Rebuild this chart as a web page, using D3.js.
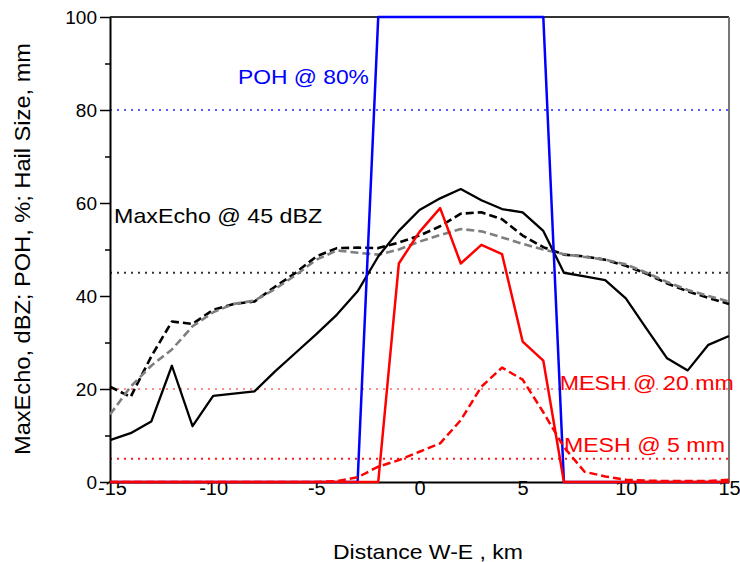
<!DOCTYPE html>
<html>
<head>
<meta charset="utf-8">
<script src="https://cdn.jsdelivr.net/npm/d3@7"></script>
<style>
  html, body { margin: 0; padding: 0; background: #fff; }
  svg { display: block; font-family: "Liberation Sans", Arial, sans-serif; }
</style>
</head>
<body>
<svg id="chart" width="740" height="562"></svg>
<script>
// ---- data ----
const distance = [-15,-14,-13,-12,-11,-10,-9,-8,-7,-6,-5,-4,-3,-2,-1,0,1,2,3,4,5,6,7,8,9,10,11,12,13,14,15];
const maxEchoSolid = [9,10.5,13,25,12,18.5,19,19.5,23.8,27.8,31.8,36,41,48.5,54,58.5,61,63,60.6,58.7,58,54,45,44.2,43.4,39.5,33,26.6,24,29.5,31.4];
const maxEchoDashed = [20.5,18.3,27,34.5,34,37,38.3,38.8,42,45,48.5,50.3,50.4,50.3,51.5,53,55,57.7,58,56.5,53,50.5,48.9,48.5,47.8,46.5,44.8,42.7,41,39.6,38.3];
const maxEchoGray = [14.5,20.5,25,28.5,33.5,36.5,38.3,39,41.5,44.5,47.8,49.8,49.3,48.9,50,51.7,53.1,54.4,53.9,52.6,51.2,50,49,48.4,47.8,46.8,45,43,41.3,40,38.8];
const poh = [0,0,0,0,0,0,0,0,0,0,0,0,0,100,100,100,100,100,100,100,100,100,0,0,0,0,0,0,0,0,0];
const meshSolid = [0,0,0,0,0,0,0,0,0,0,0,0,0,0,47,53.8,58.9,47,51,49,30.2,26.1,0,0,0,0,0,0,0,0,0];
const meshDashed = [0,0,0,0,0,0,0,0,0,0,0,0.2,1.0,3.3,4.7,6.5,8.3,13.3,20.5,24.6,22,15,7.5,2.2,1.2,0.5,0.3,0.2,0.2,0.2,0.5];

const thresholdValues = [80, 45, 20, 5];
const thresholdColors = ["#5a5aff", "#333333", "#ff8c8c", "#ff1a1a"];

const annotationTexts = ["POH @ 80%", "MaxEcho @ 45 dBZ", "MESH @ 20 mm", "MESH @ 5 mm"];
const annotationX = [-8.8, -14.8, 6.8, 7.0];
const annotationY = [85.5, 55.8, 19.8, 6.5];
const annotationColors = ["#0000ff", "#000000", "#ff0000", "#ff0000"];
const annotationWidths = [131, 208, 174, 161];

const xTicks = [-15,-10,-5,0,5,10,15];
const xTickLabels = ["-15","-10","-5","0","5","10","15"];
const yTicks = [0,20,40,60,80,100];
const yTickLabels = ["0","20","40","60","80","100"];
const yMinorTicks = [10,30,50,70,90];
const xTitle = "Distance W-E , km";
const yTitle = "MaxEcho, dBZ; POH, %; Hail Size, mm";

// ---- layout ----
const svg = d3.select("#chart");
const mLeft = 110, mRight = 729, mTop = 17, mBottom = 482;
const x = d3.scaleLinear().domain([-15, 15]).range([mLeft, mRight]);
const y = d3.scaleLinear().domain([0, 100]).range([mBottom, mTop]);

// threshold dotted lines
svg.append("g").selectAll("line").data(thresholdValues).join("line")
  .attr("x1", mLeft).attr("x2", mRight)
  .attr("y1", d => y(d)).attr("y2", d => y(d))
  .attr("stroke", (d, i) => thresholdColors[i])
  .attr("stroke-width", (d, i) => i === 3 ? 2.2 : 1.8)
  .attr("stroke-dasharray", "2,5");

// frame top/right
svg.append("line").attr("x1", mLeft).attr("x2", mRight).attr("y1", mTop).attr("y2", mTop)
  .attr("stroke", "#333").attr("stroke-width", 2);
svg.append("line").attr("x1", mRight).attr("x2", mRight).attr("y1", mTop).attr("y2", mBottom)
  .attr("stroke", "#777").attr("stroke-width", 2);

// axes
const xAxis = d3.axisBottom(x).tickValues(xTicks).tickSize(0).tickPadding(-1)
  .tickFormat((d, i) => xTickLabels[i]);
const gx = svg.append("g").attr("transform", `translate(0,${mBottom})`).call(xAxis);
gx.select(".domain").attr("stroke", "#000").attr("stroke-width", 2);
gx.selectAll("text").attr("font-size", 20).attr("fill", "#000").attr("font-family", "Liberation Sans, Arial, sans-serif");
gx.selectAll(".tick").filter(d => d === -15).select("text").attr("dx", "2");

const yAxis = d3.axisLeft(y).tickValues(yTicks).tickSize(10).tickPadding(3).tickSizeOuter(0)
  .tickFormat((d, i) => yTickLabels[i]);
const gy = svg.append("g").attr("transform", `translate(${mLeft},0)`).call(yAxis);
gy.select(".domain").attr("stroke", "#000").attr("stroke-width", 2);
gy.selectAll(".tick line").attr("stroke", "#000").attr("stroke-width", 1.5);
gy.selectAll("text").attr("font-size", 19).attr("fill", "#000").attr("font-family", "Liberation Sans, Arial, sans-serif");
const gyMinor = svg.append("g").attr("transform", `translate(${mLeft},0)`)
  .call(d3.axisLeft(y).tickValues(yMinorTicks).tickSize(5).tickFormat(""));
gyMinor.select(".domain").remove();
gyMinor.selectAll(".tick line").attr("stroke", "#000").attr("stroke-width", 1.5);

// lines
const line = d3.line().x((d, i) => x(distance[i])).y(d => y(d));
function draw(data, color, width, dash) {
  svg.append("path").datum(data).attr("d", line)
    .attr("fill", "none").attr("stroke", color).attr("stroke-width", width)
    .attr("stroke-linejoin", "round")
    .attr("stroke-dasharray", dash || null);
}
draw(maxEchoDashed, "#000000", 2.6, "8,4");
draw(maxEchoGray, "#7f7f7f", 2.6, "8,4");
draw(maxEchoSolid, "#000000", 2.3, null);
draw(poh, "#0000ff", 2.5, null);
draw(meshDashed, "#ff0000", 2.5, "8,4");
draw(meshSolid, "#ff0000", 2.5, null);

// annotations
svg.append("g").selectAll("text").data(annotationTexts).join("text")
  .attr("x", (d, i) => x(annotationX[i]))
  .attr("y", (d, i) => y(annotationY[i]))
  .attr("fill", (d, i) => annotationColors[i])
  .attr("font-size", 21)
  .attr("textLength", (d, i) => annotationWidths[i])
  .attr("lengthAdjust", "spacingAndGlyphs")
  .text(d => d);

// titles
svg.append("text").attr("x", 428).attr("y", 559).attr("text-anchor", "middle")
  .attr("font-size", 21).attr("textLength", 190).attr("lengthAdjust", "spacingAndGlyphs")
  .text(xTitle);
svg.append("text").attr("transform", "translate(30,249) rotate(-90)").attr("text-anchor", "middle")
  .attr("font-size", 22).attr("textLength", 412).attr("lengthAdjust", "spacingAndGlyphs")
  .text(yTitle);
</script>
</body>
</html>
